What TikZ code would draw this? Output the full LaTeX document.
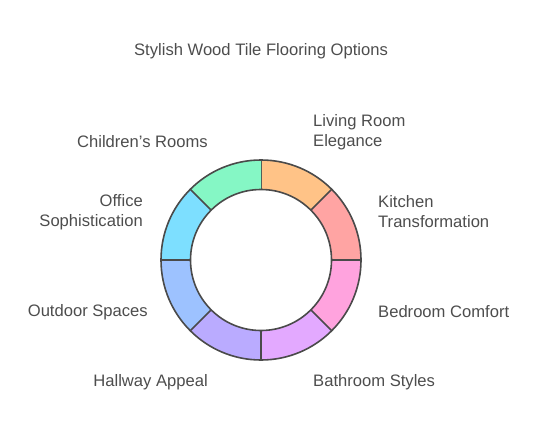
\documentclass[tikz,border=0pt]{standalone}
\usepackage{fontspec}
\setmainfont{Liberation Sans}
\usetikzlibrary{positioning}

\definecolor{txtgray}{HTML}{4D4D4D}
\definecolor{ringline}{HTML}{4A4A4A}
\definecolor{cLiving}{HTML}{FFC387}
\definecolor{cKitchen}{HTML}{FFA4A3}
\definecolor{cBedroom}{HTML}{FFA3DE}
\definecolor{cBathroom}{HTML}{E3A9FF}
\definecolor{cHallway}{HTML}{BAABFF}
\definecolor{cOutdoor}{HTML}{9DC2FF}
\definecolor{cOffice}{HTML}{7DDFFF}
\definecolor{cChildren}{HTML}{85F7C5}

\begin{document}
\begin{tikzpicture}
[x=1pt,y=1pt,
 every node/.style={font=\fontsize{16.6}{20}\selectfont,text=txtgray,inner sep=0pt},
 lbl/.style={anchor=west,align=left},
 rlbl/.style={anchor=east,align=right}]
\useasboundingbox (0,0) rectangle (537,432);
%title
\node (title) at (261,381) {Stylish Wood Tile Flooring Options};
%ring
\begin{scope}[shift={(261,172)}]
\foreach \a/\c in {90/cLiving,45/cKitchen,0/cBedroom,-45/cBathroom,
                   -90/cHallway,-135/cOutdoor,-180/cOffice,-225/cChildren}
{
  \fill[\c] (\a:100) arc[start angle=\a,end angle=\a-45,radius=100]
     -- (\a-45:70.5) arc[start angle=\a-45,end angle=\a,radius=70.5] -- cycle;
  \draw[ringline,line width=1.6pt] (\a:70.5) -- (\a:100);
}
\draw[ringline,line width=1.6pt] (0,0) circle[radius=100] (0,0) circle[radius=70.5];
\end{scope}
%labels
\node (living) [lbl] at (313,300) {Living Room\\Elegance};
\node (kitchen) [lbl] at (378,220) {Kitchen\\Transformation};
\node (bedroom) [lbl] at (378,120) {Bedroom Comfort};
\node (bathroom) [lbl] at (313,50) {Bathroom Styles};
\node (hallway) [rlbl] at (208,50) {Hallway Appeal};
\node (outdoor) [rlbl] at (148,120) {Outdoor Spaces};
\node (office) [rlbl] at (143,220) {Office\\Sophistication};
\node (children) [rlbl] at (208,290) {Children’s Rooms};
\end{tikzpicture}
\end{document}
